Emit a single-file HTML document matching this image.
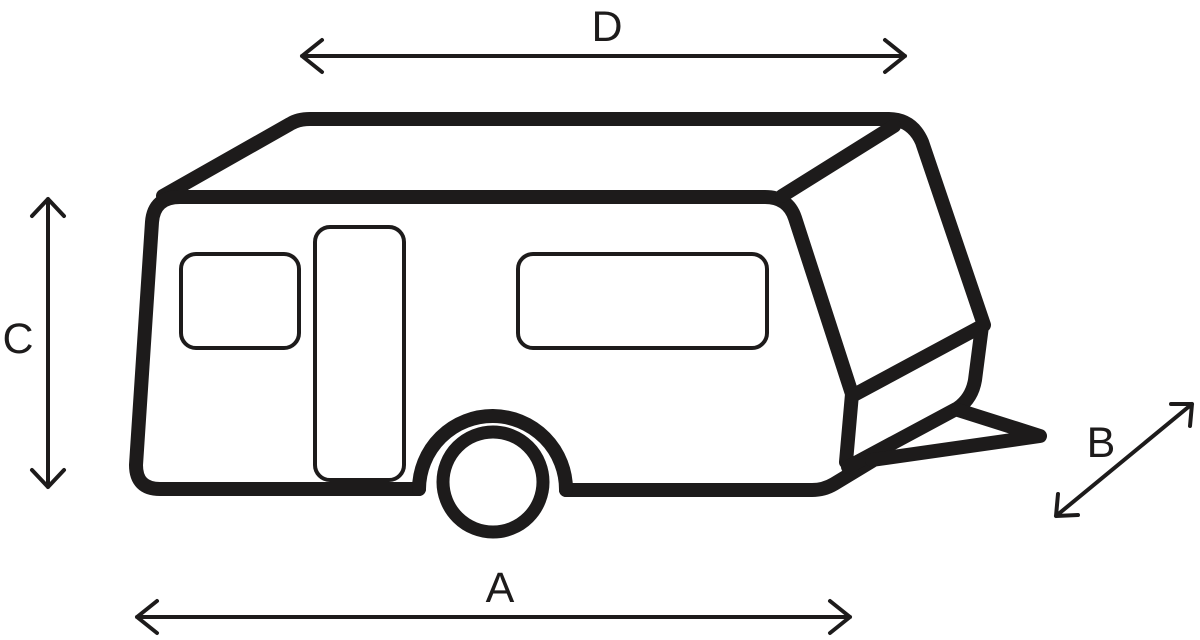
<!DOCTYPE html>
<html><head><style>html,body{margin:0;padding:0;background:#fff}svg{display:block}</style></head>
<body>
<svg width="1200" height="640" viewBox="0 0 1200 640" xmlns="http://www.w3.org/2000/svg">
<g fill="none" stroke="#1d1b1b" stroke-linecap="round" stroke-linejoin="round">
<g stroke-width="14">
<path d="M163,196 L290,124 Q298,119 310,119 L888,119 Q912,119 922,142 L984,325"/>
<path d="M419,489 L160,489 Q136,489 136,465 L152,222 Q154,197 180,197 L765,197 Q788,197 795,218 L852,394 L846,462"/>
<path d="M566,490 L812,490 Q824,490 834,484 L872,461"/>
<path d="M419,489 A73,73 0 0 1 566,490"/>
<path d="M782,196 L894,126"/>
<path d="M852,396 L982,326 L975,380 Q972,398 958,408 L848,467"/>
<path d="M958,410 L1040,436 L872,460"/>
<circle cx="493" cy="482" r="50" stroke-width="13"/>
</g>
<g stroke-width="4">
<rect x="181" y="254" width="118" height="94" rx="15"/>
<rect x="315" y="227" width="89" height="253" rx="15"/>
<rect x="518" y="254" width="249" height="94" rx="15"/>
</g>
<g stroke-width="4">
<path d="M302,56 L905,56 M322,40 L302,56 L322,72 M885,40 L905,56 L885,72"/>
<path d="M48,199 L48,487 M32,216 L48,199 L64,216 M32,470 L48,487 L64,470"/>
<path d="M137,617 L850,617 M157,601 L137,617 L157,633 M830,601 L850,617 L830,633"/>
<path d="M1056,516 L1192,404 M1058,494 L1056,516 L1078,515 M1171,404 L1192,404 L1190,426"/>
</g>
</g>
<g font-family="Liberation Sans, sans-serif" font-size="43" fill="#1d1b1b" text-anchor="middle">
<text x="607" y="41">D</text>
<text x="18" y="353">C</text>
<text x="500" y="602">A</text>
<text x="1101" y="457">B</text>
</g>
</svg>
</body></html>
